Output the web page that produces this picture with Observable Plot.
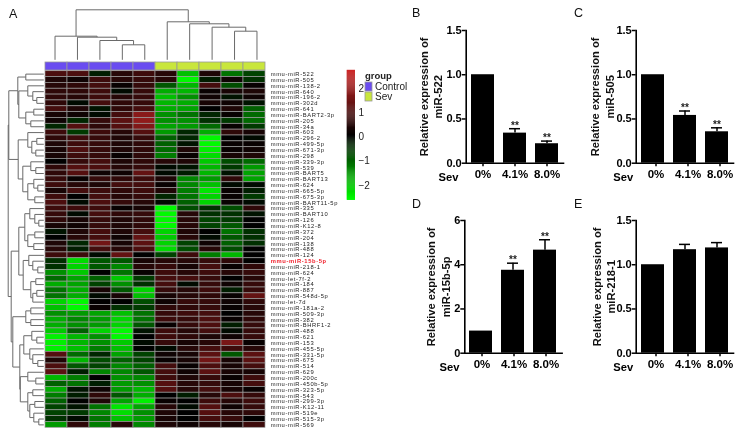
<!DOCTYPE html>
<html><head><meta charset="utf-8">
<script src="https://cdn.jsdelivr.net/npm/d3@7"></script>
<script src="https://cdn.jsdelivr.net/npm/@observablehq/plot@0.6"></script>
<style>
html,body{margin:0;padding:0;background:#fff}
#c{position:relative;width:742px;height:432px;overflow:hidden;font-family:"Liberation Sans",Arial,sans-serif}
#c svg{position:absolute;background:transparent;max-width:none;will-change:transform}
.t{position:absolute;color:#111}
</style></head><body><div id="c"></div>
<script>
const rowLabels = ["mmu-miR-522","mmu-miR-505","mmu-miR-138-2","mmu-miR-640","mmu-miR-196-2","mmu-miR-302d","mmu-miR-641","mmu-miR-BART2-3p","mmu-miR-205","mmu-miR-34a","mmu-miR-603","mmu-miR-296-2","mmu-miR-499-5p","mmu-miR-671-3p","mmu-miR-298","mmu-miR-339-3p","mmu-miR-539","mmu-miR-BART5","mmu-miR-BART13","mmu-miR-624","mmu-miR-665-5p","mmu-miR-675-3p","mmu-miR-BART11-5p","mmu-miR-335","mmu-miR-BART10","mmu-miR-126","mmu-miR-K12-8","mmu-miR-372","mmu-miR-204","mmu-miR-138","mmu-miR-488","mmu-miR-124","mmu-miR-15b-5p","mmu-miR-218-1","mmu-miR-624","mmu-let-7f-2","mmu-miR-184","mmu-miR-887","mmu-miR-548d-5p","mmu-let-7d","mmu-miR-181a-2","mmu-miR-509-3p","mmu-miR-382","mmu-miR-BHRF1-2","mmu-miR-488","mmu-miR-621","mmu-miR-153","mmu-miR-455-5p","mmu-miR-331-5p","mmu-miR-675","mmu-miR-514","mmu-miR-629","mmu-miR-200c","mmu-miR-450b-5p","mmu-miR-323-5p","mmu-miR-543","mmu-miR-299-3p","mmu-miR-K12-11","mmu-miR-519e","mmu-miR-515-3p","mmu-miR-569"];
const highlighted = "mmu-miR-15b-5p";
const columnGroups = ["Control","Control","Control","Control","Control","Sev","Sev","Sev","Sev","Sev"];
const heatValues = [
[1.0,1.0,-.3,.5,.8,.5,-2.0,.4,-1.2,-.7],
[.4,.2,.8,.5,.7,.5,-2.6,-.3,.2,-.5],
[.5,.6,.9,.1,.7,-.9,-1.9,.9,-.8,.1],
[.6,.6,.8,-.1,.7,-1.8,-1.9,.1,.3,.4],
[.6,.5,.8,.5,.7,-2.0,-1.5,.2,-.2,.2],
[.6,-.1,.9,.6,.7,-1.9,-1.8,.3,.2,-.2],
[.9,.4,-.2,.6,.9,-1.8,-1.7,0,.4,-1.0],
[.3,.2,-.1,.9,1.8,-1.5,-1.2,-.4,.1,-1.1],
[.2,-.4,.7,1.2,1.9,-1.5,-1.5,-.5,-.6,-1.1],
[-.4,1.1,.6,1.1,1.7,-1.7,-1.6,-1.1,.1,-.6],
[.8,-.6,.8,.5,1.1,-1.6,-.4,-1.8,.6,.3],
[.6,.8,.7,.4,.7,-1.0,-.4,-2.6,0,-.1],
[.4,.8,.7,.4,.6,-1.0,-.2,-2.6,.1,.1],
[.3,1.0,.7,.4,.6,-1.1,.4,-2.5,.1,.2],
[.3,.8,.7,.1,.6,-1.3,.1,-2.3,.3,.4],
[0,.7,.9,.4,.6,.5,.4,-2.1,-.8,-1.1],
[.6,1.1,1.0,.5,.7,-.1,-.2,-1.9,-.6,-1.6],
[.6,1.1,.2,.2,1.3,-.1,-.3,-1.9,-.2,-1.7],
[.7,.1,.7,.6,.8,.4,-1.4,-1.6,.6,-1.7],
[.8,.5,.4,.9,.9,.1,-1.4,-2.0,-.1,-.1],
[.3,.9,.8,.6,.8,.4,-1.3,-2.4,.1,-.3],
[.8,0,.9,.5,.7,-.4,-1.2,-2.2,.1,-.6],
[1.0,-.1,1.0,.7,.5,-.1,-1.0,-2.2,.1,-.1],
[.8,.8,.8,.1,.3,-2.6,-.8,-.5,-.8,.6],
[.7,-.1,.9,.6,.7,-2.6,.5,-.5,-.5,-.2],
[.6,.3,.7,.4,.6,-2.6,.5,-.7,-.6,0],
[.3,.2,.7,.4,.6,-2.6,.5,-.7,-.9,0],
[-.2,.4,.9,.4,.9,-2.2,.4,0,-1.2,-.5],
[0,.5,.9,.2,1.3,-2.1,.5,-.1,-.9,-.5],
[.4,-.4,1.5,.3,1.2,-2.2,-.7,.2,-1.0,-.5],
[.5,-.3,.9,.5,1.0,-2.3,-.8,.5,-.8,0],
[.8,.8,-.1,1.3,0,-.7,.8,-1.3,-1.9,0],
[-.5,-2.3,-.9,-.9,.3,.5,.5,.7,.6,0],
[-.5,-2.2,-.9,-1.4,.5,.7,.3,.9,.1,.6],
[-1.5,-2.1,0,-1.2,.1,.8,.5,.8,.5,.7],
[-1.1,-1.7,-1.0,-2.1,-.6,.9,.9,.7,0,.5],
[-1.8,-1.7,-.7,-1.5,-.5,.9,-.1,.7,.2,.7],
[-1.2,-1.8,.3,-.9,-2.2,.7,.5,.8,-.3,.7],
[-1.2,-1.8,-.1,.3,-2.0,.3,.5,.6,.1,1.3],
[-2.2,-2.6,0,0,-.8,.2,.7,.7,.2,.6],
[-2.0,-2.6,.1,-.5,-.6,.6,.6,.7,.1,.5],
[-1.5,-1.6,-1.7,-2.0,-1.2,.7,.8,.9,0,.5],
[-1.8,-1.4,-1.6,-2.2,-1.2,.8,.7,1.0,.1,.6],
[-1.8,-1.5,-1.6,-2.2,-.9,.1,.7,1.0,-.3,.7],
[-2.1,-1.0,-2.2,-2.6,-.2,.8,.5,.9,-.1,.7],
[-2.5,-1.9,-1.5,-2.6,0,.8,.6,.4,.2,.7],
[-2.5,-1.9,-1.5,-2.1,-.1,.7,.3,.5,1.6,.1],
[-2.5,-2.0,-1.3,-2.0,0,-.1,.5,.9,.8,.5],
[1.1,-1.1,-.4,-1.7,-.7,.2,.3,1.2,-.9,1.2],
[.4,-1.9,-.8,-1.0,-.7,.1,.3,1.5,.3,1.2],
[1.0,-.9,-.7,-1.4,-1.0,.9,.1,1.0,.3,.9],
[1.2,-.3,-1.4,-1.4,-.9,.9,.2,1.2,.3,.3],
[-1.9,-1.3,0,-1.5,-1.4,.8,.4,.7,.1,.8],
[-1.0,-1.2,-.3,-1.6,-1.5,1.1,.5,.7,.3,.9],
[-1.8,-.2,.2,-1.6,-1.9,1.1,.5,.9,.3,.1],
[-1.3,-.3,.6,-.9,-1.8,0,-.3,.5,1.0,.7],
[-1.0,0,.4,-1.7,-2.5,.1,0,.8,.5,.8],
[-.7,-.2,-1.2,-2.4,-1.7,.5,-.1,1.1,.2,.7],
[-.7,-.6,-1.4,-2.3,-1.5,.4,0,1.1,.5,.6],
[-.5,-.1,-1.2,-2.0,-1.6,.3,0,.9,.7,0],
[-1.6,.6,-1.3,.5,-1.4,.4,.2,.5,.3,.8]
];
// dendrograms: [height, child, child], a leaf is 0, leaves in display order
const columnTree = [50,[23.6,0,[22.6,0,[19.3,0,[15,0,0]]]],[38,0,[36,0,[32.6,0,[28.6,0,0]]]]];
const rowTreeA = [26,[18,0,0],[25,[16,0,[11,0,[7,0,0]]],[18,[10,0,0],[13,0,0]]]];
const rowTreeG = [25.6,[16,0,[12,[7,0,0],[8,0,0]]],[21,[13,0,[8,0,0]],[16,[10,0,[6,0,0]],[9,0,0]]]];
const rowTreeR = [19,[14,0,[9,0,[5,0,0]]],[16,[9,0,0],[10,0,0]]];
const rowTreeN = [20.6,[15,0,[11,0,[6,0,0]]],[13,[8,0,0],[11,[7,0,0],0]]];
const rowTreeT = [31,[18,[13,0,0],[13,0,0]],[24,[20,[12,0,[7,0,0]],[14,0,[11,0,[6,0,0]]]],[23.5,[16,0,[8,0,0]],[16,[11,0,0],[14,[9,0,0],[10,0,[5,0,0]]]]]]];
const rowTree = [35.6,[35,rowTreeA,rowTreeG],[32.6,[25,rowTreeR,rowTreeN],rowTreeT]];

const severities = ["0%","4.1%","8.0%"];
const panels = [
 {id:"522",  values:[1,.34,.22],   tops:[null,.39,.25],   stars:[false,true,true], ticks:[0,.5,1,1.5], max:1.5, fmt:".1f", left:400,top:15, axis:65.7, lab:-36,  xdx:0, sevx:-17.7},
 {id:"505",  values:[1,.54,.355],  tops:[null,.59,.40],   stars:[false,true,true], ticks:[0,.5,1,1.5], max:1.5, fmt:".1f", left:570,top:15, axis:65.7, lab:-34.5,xdx:3, sevx:-13},
 {id:"15b-5p",values:[1,3.75,4.66],tops:[null,4.07,5.13], stars:[false,true,true], ticks:[0,2,4,6],    max:6,   fmt:"d",   left:400,top:205,axis:64.3, lab:-27,  xdx:1, sevx:-15.3},
 {id:"218-1",values:[1,1.17,1.19], tops:[null,1.23,1.25], stars:[false,false,false],ticks:[0,.5,1,1.5],max:1.5, fmt:".1f", left:570,top:205,axis:65.7, lab:-33,  xdx:3, sevx:-13}
];
const legendTicks = [-2,-1,0,1,2];
const legendGroups = ["Control","Sev"];
const groupColors = ["#6a4cf0","#c9e63c"];
const panelLetters = [["A",9,7],["B",412,6],["C",574,6],["D",412,197],["E",574,197]];
const heatDomain = [-2.65,0,2.7], heatRange = ["#00ff00","#000000","#cd2626"];
const gridGrey = "#9a9a9a", treeGrey = "#6a6a6a";

const root = document.getElementById("c");
function place(svg,left,top){svg.style.left=left+"px";svg.style.top=top+"px";root.appendChild(svg);}

function treeSegments(tree){
  const segs=[]; let leaf=0;
  (function walk(n){
    if(n===0) return {pos:leaf++,h:0};
    const a=walk(n[1]), b=walk(n[2]), h=n[0];
    segs.push({p1:a.pos,h1:a.h,p2:a.pos,h2:h},{p1:a.pos,h1:h,p2:b.pos,h2:h},{p1:b.pos,h1:b.h,p2:b.pos,h2:h});
    return {pos:(a.pos+b.pos)/2,h};
  })(tree);
  return segs;
}

// column dendrogram
place(Plot.plot({width:300,height:62,marginTop:9.3,marginBottom:2.7,marginLeft:43.3,marginRight:32.3,
  x:{domain:[-.5,9.5],axis:null},y:{domain:[0,50],axis:null},
  marks:[Plot.link(treeSegments(columnTree),{x1:"p1",y1:"h1",x2:"p2",y2:"h2",stroke:treeGrey,strokeWidth:1})]}),0,0);

// group annotation strip
place(Plot.plot({width:300,height:10,margin:0,marginLeft:43.3,marginRight:32.3,marginTop:1,marginBottom:1,
  x:{domain:d3.range(10),padding:0,axis:null},y:{axis:null},
  color:{domain:legendGroups,range:groupColors},
  marks:[Plot.cell(columnGroups.map((g,i)=>({g,i})),{x:"i",fill:"g",stroke:gridGrey,strokeWidth:.8})]}),0,60.5);

// row dendrogram
place(Plot.plot({width:44,height:432,marginTop:70.7,marginBottom:4.7,marginLeft:0,marginRight:.7,
  x:{domain:[43.3,0],axis:null},y:{domain:[-.5,60.5],reverse:true,axis:null},
  marks:[Plot.link(treeSegments(rowTree),{x1:"h1",y1:"p1",x2:"h2",y2:"p2",stroke:treeGrey,strokeWidth:1})]}),0,0);

// heatmap
const table = heatValues.flatMap((r,i)=>r.map((v,j)=>({i,j,v})));
const rowIdx = d3.range(rowLabels.length);
const labelStyle = {frameAnchor:"right",textAnchor:"start",dx:2.5,fontSize:5.8};
place(Plot.plot({width:360,height:432,marginTop:70.7,marginBottom:4.7,marginLeft:43.3,marginRight:92.3,
  x:{domain:d3.range(10),padding:0,axis:null},y:{domain:rowIdx,padding:0,axis:null},
  color:{type:"linear",domain:heatDomain,range:heatRange,clamp:true},
  style:{fontFamily:"'Liberation Sans',Arial,sans-serif",letterSpacing:"0.62px"},
  marks:[
    Plot.cell(table,{x:"j",y:"i",fill:"v",stroke:gridGrey,strokeWidth:.7}),
    Plot.text(rowIdx.filter(i=>rowLabels[i]!==highlighted),{y:i=>i,text:i=>rowLabels[i],fill:"#222",...labelStyle}),
    Plot.text(rowIdx.filter(i=>rowLabels[i]===highlighted),{y:i=>i,text:i=>rowLabels[i],fill:"#f01c28",fontWeight:"bold",...labelStyle})
  ]}),0,0);

// colour bar
const legendSteps = d3.range(heatDomain[2],heatDomain[0]-.001,-.04);
place(Plot.plot({width:30,height:140,marginTop:6,marginBottom:4.3,marginLeft:11.7,marginRight:10,
  x:{axis:null},y:{domain:[heatDomain[0],heatDomain[2]],label:null,ticks:legendTicks,axis:null},
  color:{type:"linear",domain:heatDomain,range:heatRange},
  style:{fontFamily:"'Liberation Sans',Arial,sans-serif",fontSize:"10px",overflow:"visible"},
  marks:[
    Plot.rectY(legendSteps,{y1:d=>d,y2:d=>d+.05,fill:d=>d,frameAnchor:"left"}),
    Plot.text(legendTicks,{y:d=>d,text:d=>d<0?"\u2212"+(-d):""+d,frameAnchor:"right",textAnchor:"start",dx:3,fontSize:10,fill:"#222"})
  ]}),335,65);

// group legend
place(Plot.plot({width:60,height:22,margin:0,marginLeft:0,marginRight:53,
  x:{axis:null},y:{domain:legendGroups,padding:.1,axis:null},
  color:{domain:legendGroups,range:groupColors},
  style:{fontFamily:"'Liberation Sans',Arial,sans-serif",overflow:"visible"},
  marks:[
    Plot.cell(legendGroups,{y:d=>d,fill:d=>d,stroke:gridGrey,strokeWidth:.8}),
    Plot.text(legendGroups,{y:d=>d,text:d=>d,frameAnchor:"right",textAnchor:"start",dx:2.5,fontSize:10,fill:"#222"})
  ]}),365,79.5);
const gl=document.createElement("div");gl.className="t";gl.textContent="group";
gl.style.cssText="left:365px;top:69.5px;font-size:9.5px;font-weight:bold;color:#222";root.appendChild(gl);

// bar panels
for(const p of panels){
  const rows=severities.map((s,i)=>({s,v:p.values[i],t:p.tops[i],star:p.stars[i]}));
  const w=170, innerW=97.3;
  const plot=Plot.plot({width:w,height:175,marginTop:15,marginBottom:27.3,marginLeft:p.axis,marginRight:w-p.axis-innerW,
    x:{domain:severities,paddingInner:.28,paddingOuter:.128,label:null},
    y:{domain:[0,p.max],label:null},
    style:{fontFamily:"'Liberation Sans',Arial,sans-serif",color:"#000",overflow:"visible"},
    marks:[
      Plot.barY(rows,{x:"s",y:"v",fill:"#000"}),
      Plot.ruleX(rows.filter(d=>d.t!=null),{x:"s",y1:"v",y2:"t",stroke:"#000",strokeWidth:1.5}),
      Plot.tickY(rows.filter(d=>d.t!=null),{x:"s",y:"t",stroke:"#000",strokeWidth:1.5,insetLeft:6,insetRight:6}),
      Plot.text(rows.filter(d=>d.star),{x:"s",y:"t",text:()=>"**",dy:-3,fontSize:10,fontWeight:"bold",fill:"#222"}),
      Plot.frame({anchor:"left",stroke:"#000",strokeWidth:1.6}),
      Plot.frame({anchor:"bottom",stroke:"#000",strokeWidth:1.6}),
      Plot.axisY({ticks:p.ticks,tickFormat:d3.format(p.fmt),tickSize:4,tickPadding:.5,strokeWidth:1.5,fontSize:11,fontWeight:"bold",label:null}),
      Plot.axisX({tickSize:3.5,tickPadding:3.5,strokeWidth:1.5,fontSize:11.5,fontWeight:"bold",label:null,dx:p.xdx}),
      Plot.text(["Sev"],{frameAnchor:"bottom-left",dx:p.sevx,dy:14.5,textAnchor:"middle",lineAnchor:"middle",fontSize:11.2,fontWeight:"bold",fill:"#000"}),
      Plot.text(["Relative expression of\nmiR-"+p.id],{frameAnchor:"left",dx:p.lab,rotate:-90,textAnchor:"middle",lineAnchor:"middle",lineHeight:1.3,fontSize:11.2,fontWeight:"bold",fill:"#111"})
    ]});
  place(plot,p.left,p.top);
}

for(const [ch,x,y] of panelLetters){
  const d=document.createElement("div");d.className="t";d.textContent=ch;
  d.style.cssText=`left:${x}px;top:${y}px;font-size:12.5px`;root.appendChild(d);
}
</script></body></html>
